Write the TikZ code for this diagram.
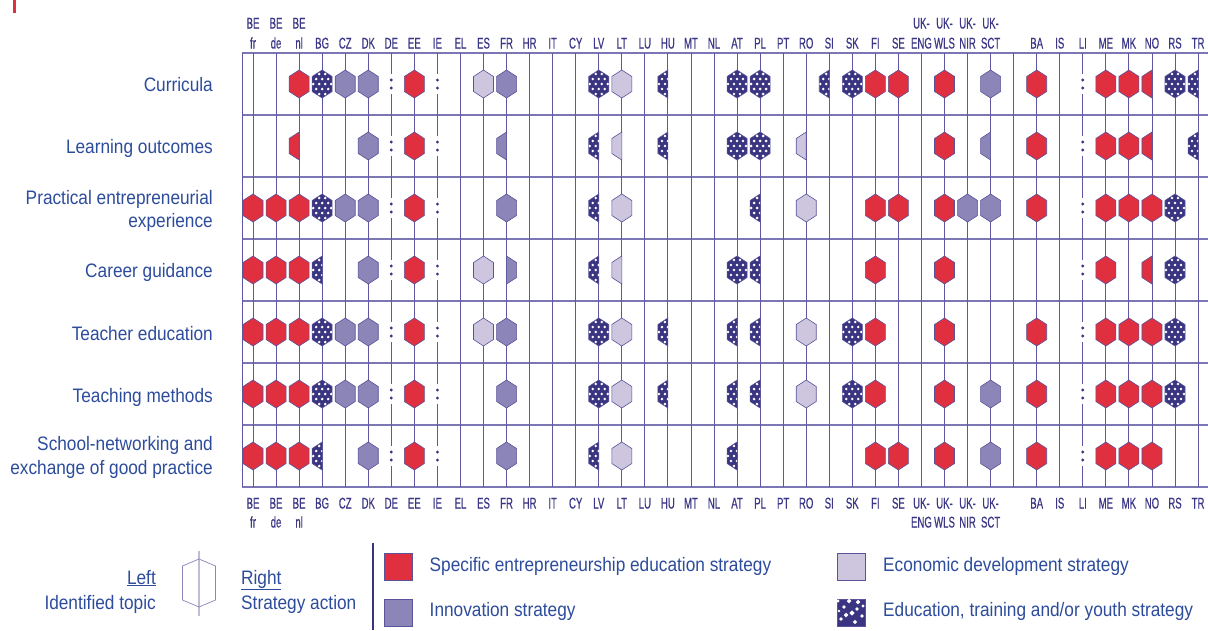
\documentclass[tikz,border=0pt]{standalone}
\usepackage{fontspec}
\setmainfont{Liberation Sans}[FakeStretch=0.885]
\newfontfamily\cfont{Liberation Sans}[FakeStretch=0.62,FakeBold=0.4]
\definecolor{cLine}{HTML}{5E57A2}
\definecolor{cHLine}{HTML}{7C76B4}
\definecolor{cRed}{HTML}{E0303F}
\definecolor{cInno}{HTML}{8C85B7}
\definecolor{cEcon}{HTML}{CEC6DF}
\definecolor{cEdu}{HTML}{3A3580}
\definecolor{cOut}{HTML}{5A529A}
\definecolor{cText}{HTML}{2D4C9C}
\definecolor{cCty}{HTML}{3B3686}
\tikzset{
  rowlab/.style={anchor=base east, inner sep=0pt, text=cText, font=\fontsize{19.5}{23}\selectfont},
  leglab/.style={anchor=base west, inner sep=0pt, text=cText, font=\fontsize{19.5}{23}\selectfont},
  legright/.style={anchor=base east, inner sep=0pt, text=cText, font=\fontsize{19.5}{23}\selectfont},
  ctylab/.style={anchor=base, inner sep=0pt, text=cCty, font=\cfont\fontsize{15.5}{17}\selectfont},
  vline/.style={draw=cLine, line width=0.9pt},
  hline/.style={draw=cHLine, line width=1.4pt},
  legbox/.style={draw=cOut, line width=0.8pt},
}
\def\hxF{(0,-14) -- (10,-7.5) -- (10,7.5) -- (0,14) -- (-10,7.5) -- (-10,-7.5) -- cycle}
\def\hxL{(0,-14) -- (0,14) -- (-10,7.5) -- (-10,-7.5) -- cycle}
\def\hxR{(0,-14) -- (10,-7.5) -- (10,7.5) -- (0,14) -- cycle}
\newcommand\hexshape[4]{%
  \pgfmathsetmacro\hX{253+23.05*#1}%
  \pgfmathsetmacro\hY{84+62*#2}%
  \if S#3\def\hexcol{cRed}\fi
  \if I#3\def\hexcol{cInno}\fi
  \if E#3\def\hexcol{cEcon}\fi
  \if Y#3\def\hexcol{cEdu}\fi
  \begin{scope}[shift={(\hX,\hY)}]
    \path[fill=\hexcol, draw=cOut, line width=0.6pt] \csname hx#4\endcsname;
    \if Y#3
      \begin{scope}
        \clip \csname hx#4\endcsname;
        \foreach \dx/\dy in {-3/-10,3/-10,-6/-5,0/-5,6/-5,-9/0,-3/0,3/0,9/0,-6/5,0/5,6/5,-3/10,3/10}
          {\fill[white] (\dx,\dy) circle (1.4);}
      \end{scope}
    \fi
  \end{scope}
}
\newcommand\colondots[2]{%
  \pgfmathsetmacro\hX{253+23.05*#1}%
  \pgfmathsetmacro\hY{84+62*#2}%
  \fill[white] (\hX-2,\hY-10) rectangle (\hX+2,\hY+10);
  \fill[cEdu] (\hX,\hY-4) circle (1.6) (\hX,\hY+4) circle (1.6);
}
\begin{document}
\begin{tikzpicture}[x=1pt,y=-1pt]
\useasboundingbox (0,0) rectangle (1208,630);
\fill[white] (0,0) rectangle (1208,630);
% red mark
\fill[cRed] (13,0) rectangle (16,13);
% grid
\foreach \k in {0,...,7} {\draw[hline] (242,53+62*\k) -- (1208,53+62*\k);}
\draw[vline] (242,53) -- (242,487);
\foreach \i in {0,...,41} {\draw[vline] (253+23.05*\i,53) -- (253+23.05*\i,487);}
% dots
\foreach \r in {0,...,6} {\colondots{6}{\r}\colondots{8}{\r}\colondots{36}{\r}}
% hexagons
\foreach \cI/\tI/\pI in {2/S/F,3/Y/F,4/I/F,5/I/F,7/S/F,10/E/F,11/I/F,15/Y/F,16/E/F,18/Y/L,21/Y/F,22/Y/F,25/Y/L,26/Y/F,27/S/F,28/S/F,30/S/F,32/I/F,34/S/F,37/S/F,38/S/F,39/S/L,40/Y/F,41/Y/L}
  {\hexshape{\cI}{0}{\tI}{\pI}}
\foreach \cI/\tI/\pI in {2/S/L,5/I/F,7/S/F,11/I/L,15/Y/L,16/E/L,18/Y/L,21/Y/F,22/Y/F,24/E/L,30/S/F,32/I/L,34/S/F,37/S/F,38/S/F,39/S/L,41/Y/L}
  {\hexshape{\cI}{1}{\tI}{\pI}}
\foreach \cI/\tI/\pI in {0/S/F,1/S/F,2/S/F,3/Y/F,4/I/F,5/I/F,7/S/F,11/I/F,15/Y/L,16/E/F,22/Y/L,24/E/F,27/S/F,28/S/F,30/S/F,31/I/F,32/I/F,34/S/F,37/S/F,38/S/F,39/S/F,40/Y/F}
  {\hexshape{\cI}{2}{\tI}{\pI}}
\foreach \cI/\tI/\pI in {0/S/F,1/S/F,2/S/F,3/Y/L,5/I/F,7/S/F,10/E/F,11/I/R,15/Y/L,16/E/L,21/Y/F,22/Y/L,27/S/F,30/S/F,37/S/F,39/S/L,40/Y/F}
  {\hexshape{\cI}{3}{\tI}{\pI}}
\foreach \cI/\tI/\pI in {0/S/F,1/S/F,2/S/F,3/Y/F,4/I/F,5/I/F,7/S/F,10/E/F,11/I/F,15/Y/F,16/E/F,18/Y/L,21/Y/L,22/Y/L,24/E/F,26/Y/F,27/S/F,30/S/F,34/S/F,37/S/F,38/S/F,39/S/F,40/Y/F}
  {\hexshape{\cI}{4}{\tI}{\pI}}
\foreach \cI/\tI/\pI in {0/S/F,1/S/F,2/S/F,3/Y/F,4/I/F,5/I/F,7/S/F,11/I/F,15/Y/F,16/E/F,18/Y/L,21/Y/L,22/Y/L,24/E/F,26/Y/F,27/S/F,30/S/F,32/I/F,34/S/F,37/S/F,38/S/F,39/S/F,40/Y/F}
  {\hexshape{\cI}{5}{\tI}{\pI}}
\foreach \cI/\tI/\pI in {0/S/F,1/S/F,2/S/F,3/Y/L,5/I/F,7/S/F,11/I/F,15/Y/L,16/E/F,21/Y/L,27/S/F,28/S/F,30/S/F,32/I/F,34/S/F,37/S/F,38/S/F,39/S/F}
  {\hexshape{\cI}{6}{\tI}{\pI}}
% country labels
\foreach \i/\n in {3/BG,4/CZ,5/DK,6/DE,7/EE,8/IE,9/EL,10/ES,11/FR,12/HR,13/IT,14/CY,15/LV,16/LT,17/LU,18/HU,19/MT,20/NL,21/AT,22/PL,23/PT,24/RO,25/SI,26/SK,27/FI,28/SE,34/BA,35/IS,36/LI,37/ME,38/MK,39/NO,40/RS,41/TR}
{
  \pgfmathsetmacro\x{253+23.05*\i}
  \node[ctylab] (ts\i) at (\x,48.5) {\n};
  \node[ctylab] (bs\i) at (\x,508.5) {\n};
}
\foreach \i/\a/\b in {0/BE/fr,1/BE/de,2/BE/nl,29/UK-/ENG,30/UK-/WLS,31/UK-/NIR,32/UK-/SCT}
{
  \pgfmathsetmacro\x{253+23.05*\i}
  \node[ctylab] (ta\i) at (\x,28.5) {\a};
  \node[ctylab] (tb\i) at (\x,48.5) {\b};
  \node[ctylab] (ba\i) at (\x,508.5) {\a};
  \node[ctylab] (bb\i) at (\x,527.5) {\b};
}
% row labels
\node[rowlab] (r0) at (213,91) {Curricula};
\node[rowlab] (r1) at (213,153) {Learning outcomes};
\node[rowlab] (r2a) at (213,204) {Practical entrepreneurial};
\node[rowlab] (r2b) at (213,227) {experience};
\node[rowlab] (r3) at (213,277) {Career guidance};
\node[rowlab] (r4) at (213,340) {Teacher education};
\node[rowlab] (r5) at (213,402) {Teaching methods};
\node[rowlab] (r6a) at (213,450) {School-networking and};
\node[rowlab] (r6b) at (213,474) {exchange of good practice};
% legend: left/right
\node[legright] (lL) at (156,584) {\underline{Left}};
\node[legright] (lId) at (156,609) {Identified topic};
\draw[draw=cEcon!90!cOut, line width=2pt] (199,551) -- (199,616);
\draw[draw=cInno, line width=0.7pt] (199,559) -- (215.5,566) -- (215.5,600) -- (199,607) -- (182.5,600) -- (182.5,566) -- cycle;
\node[leglab] (lR) at (241,584) {\underline{Right}};
\node[leglab] (lSa) at (241,609) {Strategy action};
\draw[draw=cEdu, line width=2.5pt] (373,543) -- (373,630);
% legend boxes
\filldraw[legbox, fill=cRed] (384.6,553) rectangle (412.5,580);
\node[leglab] (lS) at (429.5,571) {Specific entrepreneurship education strategy};
\filldraw[legbox, fill=cInno] (384.6,599) rectangle (412.5,626);
\node[leglab] (lI) at (429.5,616) {Innovation strategy};
\filldraw[legbox, fill=cEcon] (837,553) rectangle (865,580);
\node[leglab] (lE) at (883,571) {Economic development strategy};
\filldraw[legbox, fill=cEdu] (837,599) rectangle (865,626);
\begin{scope}
\clip (837,599) rectangle (865,626);
\foreach \px/\py/\s in {838/601/1.2,849/601/1.6,858/602/1.6,863/606/1.2,844/607/1.3,846/615/1.6,852/613/1.8,857/609/1.4,841/619/1.4,862/616/1.4,855/622/1.5,839/611/1.0}
  {\fill[white, rotate around={45:(\px,\py)}] (\px-\s,\py-\s) rectangle (\px+\s,\py+\s);}
\end{scope}
\node[leglab] (lY) at (883,616) {Education, training and/or youth strategy};
\end{tikzpicture}
\end{document}
